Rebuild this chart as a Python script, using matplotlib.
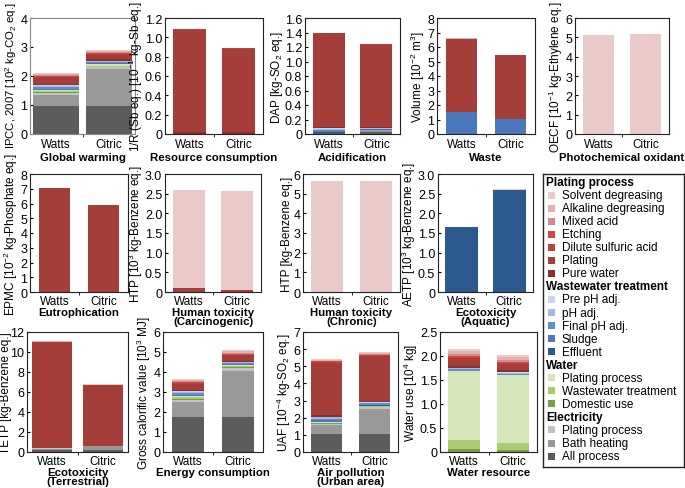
"""Stacked LCA impact bars, Watts vs citric plating baths (13 small panels + legend)."""

import matplotlib
matplotlib.use("Agg")
import matplotlib.pyplot as plt
from matplotlib.patches import Rectangle
import numpy as np

plt.rcParams["font.family"] = ["Liberation Sans", "DejaVu Sans"]
plt.rcParams["font.size"] = 8.5
plt.rcParams["mathtext.default"] = "regular"

W, H = 685, 489
BARS = ["Watts", "Citric"]

# legend, top to bottom as printed
GROUPS = ["Plating process", "Wastewater treatment", "Water", "Electricity"]
ITEMS = [
    ["Solvent degreasing", "Alkaline degreasing", "Mixed acid", "Etching",
     "Dilute sulfuric acid", "Plating", "Pure water"],
    ["Pre pH adj.", "pH adj.", "Final pH adj.", "Sludge", "Effluent"],
    ["Plating process", "Wastewater treatment", "Domestic use"],
    ["Plating process", "Bath heating", "All process"],
]
ITEM_COLORS = [
    ["#ecc9c9", "#e3b1b1", "#d38b8b", "#cf4a42", "#bf413a", "#a53d39", "#8a2f2f"],
    ["#c9d5ec", "#a3b9e0", "#5f8ed0", "#4a78bb", "#2c5a8e"],
    ["#d5e6ba", "#a9cb72", "#7a9d45"],
    ["#c3c3c3", "#999999", "#5c5c5c"],
]

# stack order, bottom -> top:
# elec all, elec bath, elec plating, water domestic, water wwt, water plating,
# effluent, sludge, final pH, pH, pre pH, pure water, plating, dilute H2SO4,
# etching, mixed acid, alkaline, solvent
GW_WATTS = [0.95, 0.40, 0.08, 0.02, 0.02, 0.04, 0.02, 0.03, 0.05, 0.05, 0.03, 0.04, 0.22, 0.03, 0.02, 0.03, 0.04, 0.03]
GW_CITRIC = [0.95, 1.30, 0.05, 0.02, 0.03, 0.05, 0.02, 0.02, 0.04, 0.03, 0.02, 0.04, 0.18, 0.02, 0.02, 0.03, 0.03, 0.03]
RC_WATTS = [0, 0, 0, 0, 0, 0, 0, 0, 0, 0, 0, 0.02, 1.06, 0.01, 0, 0, 0, 0]
RC_CITRIC = [0, 0, 0, 0, 0, 0, 0, 0, 0, 0, 0, 0.02, 0.86, 0.01, 0, 0, 0, 0]
AC_WATTS = [0.01, 0.01, 0, 0, 0, 0, 0.01, 0.01, 0.02, 0.01, 0.01, 0.02, 1.29, 0.01, 0, 0, 0, 0]
AC_CITRIC = [0.03, 0.03, 0, 0, 0, 0, 0, 0.005, 0.01, 0.005, 0, 0.02, 1.13, 0.01, 0, 0, 0, 0]
WS_WATTS = [0, 0, 0, 0, 0, 0, 0, 1.55, 0, 0, 0, 0, 5.02, 0, 0, 0, 0.03, 0.02]
WS_CITRIC = [0, 0, 0, 0, 0, 0, 0, 1.05, 0, 0, 0, 0, 4.38, 0, 0, 0, 0.03, 0.02]
PO_WATTS = [0, 0, 0, 0, 0, 0, 0, 0, 0, 0, 0, 0, 0, 0, 0, 0, 0, 5.12]
PO_CITRIC = [0, 0, 0, 0, 0, 0, 0, 0, 0, 0, 0, 0, 0, 0, 0, 0, 0, 5.15]
EU_WATTS = [0, 0, 0, 0, 0, 0, 0, 0, 0, 0, 0, 0, 7.02, 0, 0, 0, 0, 0.03]
EU_CITRIC = [0, 0, 0, 0, 0, 0, 0, 0, 0, 0, 0, 0, 5.87, 0, 0, 0, 0, 0.03]
HC_WATTS = [0, 0, 0, 0, 0, 0, 0, 0, 0, 0, 0, 0, 0.10, 0, 0, 0, 0, 2.50]
HC_CITRIC = [0, 0, 0, 0, 0, 0, 0, 0, 0, 0, 0, 0, 0.06, 0, 0, 0, 0, 2.51]
HT_WATTS = [0, 0, 0, 0, 0, 0, 0, 0, 0, 0, 0, 0, 0, 0, 0, 0, 0, 5.62]
HT_CITRIC = [0, 0, 0, 0, 0, 0, 0, 0, 0, 0, 0, 0, 0, 0, 0, 0, 0, 5.62]
AQ_WATTS = [0, 0, 0, 0, 0, 0, 1.64, 0, 0, 0, 0, 0, 0, 0, 0, 0, 0, 0.02]
AQ_CITRIC = [0, 0, 0, 0, 0, 0, 2.60, 0, 0, 0, 0, 0, 0, 0, 0, 0, 0, 0.02]
TE_WATTS = [0.20, 0.15, 0.05, 0, 0, 0, 0, 0, 0, 0, 0, 0, 10.60, 0.05, 0, 0, 0.05, 0.05]
TE_CITRIC = [0.25, 0.35, 0.05, 0, 0, 0, 0, 0, 0, 0, 0, 0, 6.10, 0, 0, 0, 0, 0.05]
EN_WATTS = [1.75, 0.75, 0.10, 0.05, 0.08, 0.07, 0.02, 0.05, 0.08, 0.07, 0.03, 0.05, 0.30, 0.05, 0.03, 0.05, 0.07, 0.05]
EN_CITRIC = [1.75, 2.30, 0.15, 0.04, 0.06, 0.05, 0.02, 0.03, 0.05, 0.03, 0.02, 0.05, 0.28, 0.04, 0.03, 0.06, 0.08, 0.08]
UA_WATTS = [1.05, 0.50, 0.10, 0.03, 0.04, 0.03, 0.02, 0.08, 0.10, 0.07, 0.03, 0.10, 3.05, 0.05, 0.03, 0.03, 0.05, 0.04]
UA_CITRIC = [1.05, 1.45, 0.10, 0.03, 0.04, 0.03, 0.02, 0.05, 0.07, 0.04, 0.02, 0.10, 2.60, 0.05, 0.03, 0.04, 0.05, 0.06]
WR_WATTS = [0, 0, 0, 0.06, 0.20, 1.42, 0, 0.01, 0.03, 0.02, 0.01, 0.05, 0.16, 0.02, 0.03, 0.04, 0.05, 0.05]
WR_CITRIC = [0, 0, 0, 0.05, 0.13, 1.42, 0, 0.01, 0.02, 0.02, 0.01, 0.04, 0.14, 0.02, 0.02, 0.04, 0.05, 0.05]

# title, y label, y max, tick step, decimals, watts, citric
PANELS = [
    ("Global warming", "IPCC, 2007 [10$^2$ kg-CO$_2$ eq.]", 4, 1, 0, GW_WATTS, GW_CITRIC),
    ("Resource consumption", "1/R (Sb eq.) [10$^{-1}$ kg-Sb eq.]", 1.2, 0.2, 1, RC_WATTS, RC_CITRIC),
    ("Acidification", "DAP [kg-SO$_2$ eq.]", 1.6, 0.2, 1, AC_WATTS, AC_CITRIC),
    ("Waste", "Volume [10$^{-2}$ m$^3$]", 8, 1, 0, WS_WATTS, WS_CITRIC),
    ("Photochemical oxidant", "OECF [10$^{-1}$ kg-Ethylene eq.]", 6, 1, 0, PO_WATTS, PO_CITRIC),
    ("Eutrophication", "EPMC [10$^{-2}$ kg-Phosphate eq.]", 8, 1, 0, EU_WATTS, EU_CITRIC),
    ("Human toxicity\n(Carcinogenic)", "HTP [10$^3$ kg-Benzene eq.]", 3.0, 0.5, 1, HC_WATTS, HC_CITRIC),
    ("Human toxicity\n(Chronic)", "HTP [kg-Benzene eq.]", 6, 1, 0, HT_WATTS, HT_CITRIC),
    ("Ecotoxicity\n(Aquatic)", "AETP [10$^3$ kg-Benzene eq.]", 3.0, 0.5, 1, AQ_WATTS, AQ_CITRIC),
    ("Ecotoxicity\n(Terrestrial)", "TETP [kg-Benzene eq.]", 12, 2, 0, TE_WATTS, TE_CITRIC),
    ("Energy consumption", "Gross calorific value [10$^3$ MJ]", 6, 1, 0, EN_WATTS, EN_CITRIC),
    ("Air pollution\n(Urban area)", "UAF [10$^{-4}$ kg-SO$_2$ eq.]", 7, 1, 0, UA_WATTS, UA_CITRIC),
    ("Water resource", "Water use [10$^4$ kg]", 2.5, 0.5, 1, WR_WATTS, WR_CITRIC),
]

# axes boxes in pixels (left, top, right, bottom) and bar widths
BOXES = [
    (30, 19, 135, 135), (165, 19, 263, 135), (305, 19, 400, 135),
    (437, 19, 535, 135), (575, 19, 669, 135),
    (30, 175, 128, 293), (165, 175, 261, 293), (303, 175, 400, 293), (438, 175, 533, 293),
    (27, 333, 128, 453), (163, 333, 263, 453), (303, 333, 398, 453), (440, 333, 537, 453),
]
WIDTHS = [0.88, 0.66, 0.68, 0.64, 0.66, 0.65, 0.66, 0.67, 0.7, 0.8, 0.64, 0.66, 0.65]

STACK_COLORS = [c for grp in ITEM_COLORS for c in grp][::-1]

fig = plt.figure(figsize=(W / 100, H / 100), dpi=100)


def px_axes(l, t, r, b):
    return fig.add_axes([l / W, 1 - b / H, (r - l) / W, (b - t) / H])


for i, ((title, ylab, ymax, step, dec, watts, citric), box, wd) in enumerate(zip(PANELS, BOXES, WIDTHS)):
    ax = px_axes(*box)
    bottom = np.zeros(2)
    for k, c in enumerate(STACK_COLORS):
        vals = np.array([watts[k], citric[k]])
        ax.bar([0, 1], vals, wd, bottom=bottom, color=c, linewidth=0)
        bottom += vals
    ax.set_xlim(-0.5, 1.5)
    ax.set_ylim(0, ymax)
    ticks = np.arange(0, ymax + step / 2, step)
    ax.set_yticks(ticks)
    ax.set_yticklabels(["0" if t == 0 else f"{t:.{dec}f}" for t in ticks], fontsize=9)
    ax.set_xticks([0, 1])
    ax.set_xticklabels(BARS, fontsize=8.5)
    ax.set_xticks([0.5], minor=True)
    top_row = i < 5
    ax.tick_params(axis="x", which="major", length=0, pad=3 if top_row else 2)
    ax.tick_params(axis="x", which="minor", length=2, direction="out")
    ax.tick_params(axis="y", length=2, direction="in", pad=2)
    ax.set_xlabel(title, fontweight="bold", fontsize=8.2,
                  labelpad=1 if top_row else 0, linespacing=0.95)
    if i == 0:
        # this label sits high and reaches the top of the page
        ax.set_ylabel(ylab, fontsize=8.2, labelpad=1, ha="left", y=-0.12)
    elif title.startswith("Ecotoxicity\n(T"):
        ax.set_ylabel(ylab, labelpad=-1)
    else:
        ax.set_ylabel(ylab, labelpad=0)
    for sp in ax.spines.values():
        sp.set_color("#888888" if i == 0 else "#222222")

# legend box
lg = px_axes(543, 175, 684, 468)
lg.set_xlim(0, 141)
lg.set_ylim(293, 0)
lg.set_xticks([])
lg.set_yticks([])
for sp in lg.spines.values():
    sp.set_color("#222222")
    sp.set_linewidth(1.0)
row = 0
for grp, names, cols in zip(GROUPS, ITEMS, ITEM_COLORS):
    lg.text(3, 8 + row * 13.05, grp, fontweight="bold", va="center", ha="left")
    row += 1
    for name, c in zip(names, cols):
        y = 8 + row * 13.05
        lg.add_patch(Rectangle((5, y - 3.5), 7, 7, color=c, lw=0))
        lg.text(19, y, name, va="center", ha="left")
        row += 1

fig.savefig("out.png", dpi=100)
